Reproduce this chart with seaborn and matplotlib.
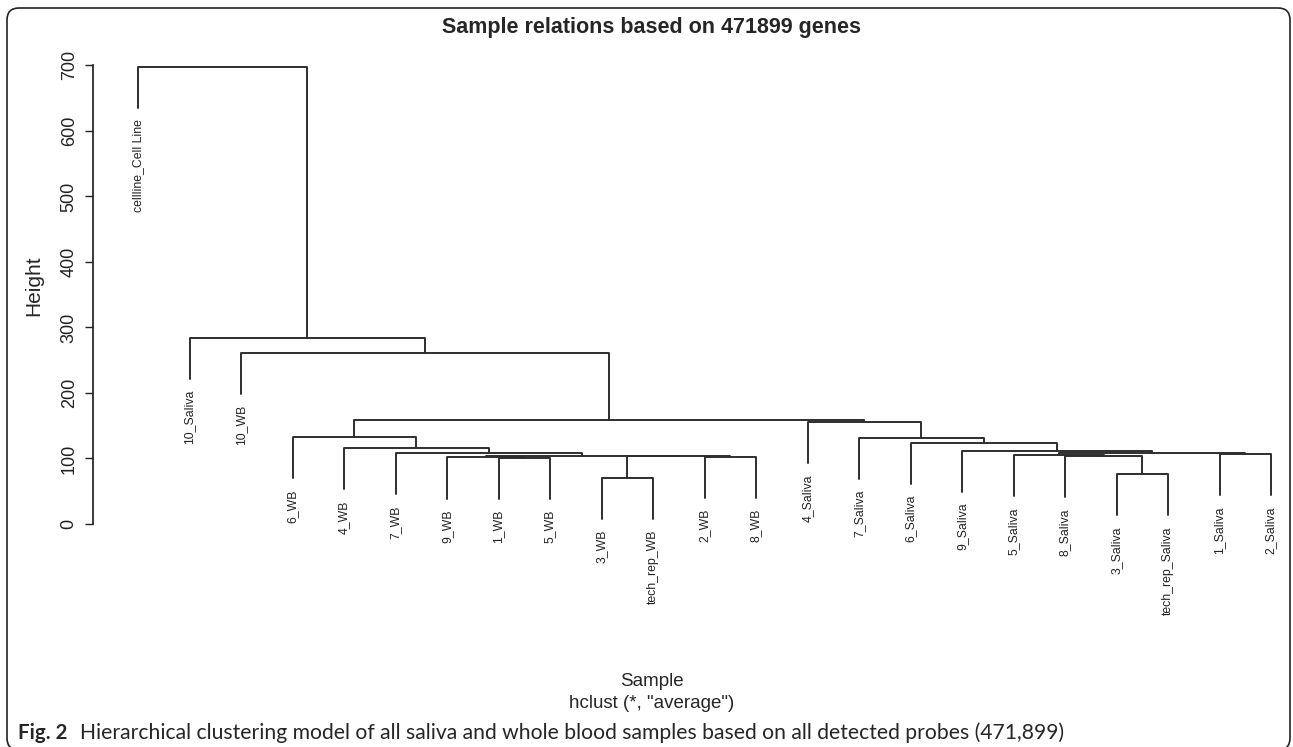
import numpy as np
import pandas as pd
import matplotlib
matplotlib.use('Agg')
import matplotlib.pyplot as plt
from matplotlib.patches import FancyBboxPatch
from matplotlib.transforms import IdentityTransform
import seaborn as sns

# leaves in the order the dendrogram shows them
leaf_labels = ["cellline_Cell Line", "10_Saliva", "10_WB",
               "6_WB", "4_WB", "7_WB", "9_WB", "1_WB", "5_WB", "3_WB",
               "tech_rep_WB", "2_WB", "8_WB",
               "4_Saliva", "7_Saliva", "6_Saliva", "9_Saliva", "5_Saliva",
               "8_Saliva", "3_Saliva", "tech_rep_Saliva", "1_Saliva", "2_Saliva"]

# hclust-style merge table: negative = leaf (1-based), positive = earlier merge row
merge_left = [-10, -20, -8, -7, -12, 1, -19, 4, -18, -22, 9, -6,
              -17, -5, -16, -15, -4, -14, 17, -3, -2, -1]
merge_right = [-11, -21, -9, 3, -13, 5, 2, 6, 7, -23, 10, 8,
               11, 12, 13, 15, 14, 16, 18, 19, 20, 21]
merge_height = [70.7, 75.8, 101.0, 101.6, 102.7, 103.3, 103.3, 104.2, 105.2,
                106.3, 107.8, 108.4, 112.1, 115.9, 124.0, 131.6, 132.7, 155.1,
                158.6, 261.0, 284.5, 698.0]

y_ticks = [0, 100, 200, 300, 400, 500, 600, 700]

W, H = 1293, 747
sns.set_theme(style="white")
plt.rcParams['font.family'] = ['Liberation Sans', 'DejaVu Sans']

hang = 0.1 * (max(merge_height) - min(merge_height))

# walk the merge table -> segments
node_x = {}
leaf_bottom = {}
rows = []
for i, (a, b, h) in enumerate(zip(merge_left, merge_right, merge_height), start=1):
    ends = []
    for c in (a, b):
        if c < 0:
            x = -c
            low = h - hang
            leaf_bottom[x] = low
        else:
            x = node_x[c]
            low = merge_height[c - 1]
        ends.append((x, low))
    (xa, la), (xb, lb) = ends
    for k, (px, py) in enumerate([(xa, la), (xa, h), (xb, h), (xb, lb)]):
        rows.append({"seg": i, "k": k, "x": px, "y": py})
    node_x[i] = (xa + xb) / 2
seg_df = pd.DataFrame(rows)

fig = plt.figure(figsize=(W / 100, H / 100), dpi=100)
ax_left, ax_right, y0_px, y700_px = 93, 1285, 524, 65.4
ax = fig.add_axes([ax_left / W, (H - y0_px) / H,
                   (ax_right - ax_left) / W, (y0_px - y700_px) / H])

sns.lineplot(data=seg_df, x="x", y="y", units="seg", estimator=None, sort=False,
             color="#2e2e2e", linewidth=1.4, ax=ax)

step = (1271 - 138) / 22
ax.set_xlim(1 - (138 - ax_left) / step, 23 + (ax_right - 1271) / step)
ax.set_ylim(0, 700)
ax.set_xticks([])
ax.set_yticks(y_ticks)
ax.set_yticklabels([str(t) for t in y_ticks], rotation=90, va="center")
ax.tick_params(axis="y", left=True, length=6, width=1, pad=5, labelsize=13,
               colors="#222222")
for s in ["top", "right", "bottom"]:
    ax.spines[s].set_visible(False)
ax.spines["left"].set_bounds(0, 700)
ax.spines["left"].set_color("#222222")
ax.set_xlabel("")
ax.set_ylabel("")

# leaf labels hang below each leaf
for idx, lab in enumerate(leaf_labels, start=1):
    ax.annotate(lab, (idx, leaf_bottom[idx]), xytext=(0, -8), textcoords="offset points",
                rotation=90, ha="center", va="top", fontsize=8.8, color="#222222",
                annotation_clip=False)

fig.text(652 / W, 1 - 27 / H, "Sample relations based on 471899 genes",
         ha="center", va="center", fontsize=15.5, fontweight="bold")
fig.text(34 / W, 1 - 286 / H, "Height", rotation=90, ha="center", va="center",
         fontsize=15)
fig.text(652 / W, 1 - 682 / H, "Sample", ha="center", va="center", fontsize=13.5)
fig.text(652 / W, 1 - 703 / H, 'hclust (*, "average")', ha="center", va="center",
         fontsize=13.5)

# caption, sized to the reference widths
cap_font = ["Lato", "Liberation Sans"]
fig_lab = fig.text(18 / W, 1 - 733 / H, "Fig. 2", ha="left", va="center",
                   fontsize=12, fontweight="bold", family=cap_font)
cap = fig.text(80 / W, 1 - 733 / H,
               "Hierarchical clustering model of all saliva and whole blood samples "
               "based on all detected probes (471,899)",
               ha="left", va="center", fontsize=12, family=cap_font)
fig.canvas.draw()
cap.set_fontsize(12 * (1062 - 80) / cap.get_window_extent().width)
fig_lab.set_fontsize(12 * (67 - 18) / fig_lab.get_window_extent().width)

border = FancyBboxPatch((7, -3), 1283, 742, boxstyle="round,pad=0,rounding_size=12",
                        transform=IdentityTransform(), fill=False,
                        edgecolor="#222222", linewidth=1.2)
fig.add_artist(border)

fig.savefig("out.png", dpi=100)
